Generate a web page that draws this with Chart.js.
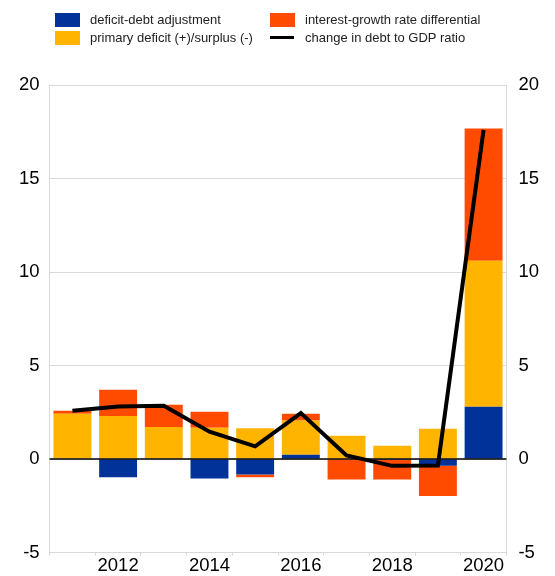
<!DOCTYPE html>
<html>
<head>
<meta charset="utf-8">
<script src="https://cdn.jsdelivr.net/npm/chart.js@4"></script>
<style>
  body { margin: 0; background: #fff; }
  #wrap { position: relative; width: 555px; height: 576px; font-family: "Liberation Sans", Arial, sans-serif; }
  #legend { position: absolute; left: 0; top: 0; width: 555px; height: 50px; font-size: 13px; color: #222; }
  .item { position: absolute; height: 16px; line-height: 16px; white-space: nowrap; }
  .sw { position: absolute; left: 0; top: 1px; width: 25px; height: 14px; }
  .ln { position: absolute; left: 0; top: 6px; width: 24px; height: 3px; background: #000; }
  .tx { position: absolute; left: 35px; top: 0; }
  #c { position: absolute; left: 0; top: 0; }
</style>
</head>
<body>
<div id="wrap">
  <canvas id="c" width="555" height="576"></canvas>
  <div id="legend"></div>
</div>
<script>
"use strict"

const years = ['2011', '2012', '2013', '2014', '2015', '2016', '2017', '2018', '2019', '2020'];
const deficitDebt = [0, -0.97, 0, -1.04, -0.82, 0.23, 0, -0.05, -0.36, 2.8];
const primaryDeficit = [2.43, 2.31, 1.72, 1.68, 1.65, 1.83, 1.25, 0.71, 1.63, 7.8];
const interestGrowth = [0.15, 1.4, 1.18, 0.85, -0.15, 0.37, -1.09, -1.04, -1.61, 7.08];
const debtChange = [2.58, 2.81, 2.85, 1.47, 0.68, 2.46, 0.2, -0.36, -0.34, 17.6];

const seriesNames = [
    'deficit-debt adjustment',
    'primary deficit (+)/surplus (-)',
    'interest-growth rate differential',
    'change in debt to GDP ratio'
];
const seriesColors = ['#003299', '#ffb400', '#ff4b00', '#000000'];

// legend, two columns
const legendSpots = [[55, 12], [55, 30], [270, 12], [270, 30]];
const legend = document.getElementById('legend');
seriesNames.forEach(function (name, i) {
    const item = document.createElement('div');
    item.className = 'item';
    item.style.left = legendSpots[i][0] + 'px';
    item.style.top = legendSpots[i][1] + 'px';
    const mark = document.createElement('div');
    if (i === 3) {
        mark.className = 'ln';
    } else {
        mark.className = 'sw';
        mark.style.background = seriesColors[i];
    }
    const txt = document.createElement('div');
    txt.className = 'tx';
    txt.textContent = name;
    item.appendChild(mark);
    item.appendChild(txt);
    legend.appendChild(item);
});

const zeroLine = {
    id: 'zeroLine',
    afterDatasetsDraw(chart) {
        const ctx = chart.ctx;
        const y = chart.scales.y.getPixelForValue(0);
        ctx.save();
        ctx.strokeStyle = '#000';
        ctx.lineWidth = 1.5;
        ctx.beginPath();
        ctx.moveTo(chart.chartArea.left, y);
        ctx.lineTo(chart.chartArea.right, y);
        ctx.stroke();
        ctx.restore();
    }
};

const gridGrey = '#d9d9d9';
const tickFont = { family: '"Liberation Sans", Arial, sans-serif', size: 18.5, lineHeight: 1.1 };

function barSet(i, data) {
    return {
        type: 'bar',
        label: seriesNames[i],
        data: data,
        backgroundColor: seriesColors[i],
        borderWidth: 0,
        categoryPercentage: 0.83,
        barPercentage: 1,
        stack: 'bars',
        order: 2
    };
}

let config = {
    data: {
        labels: years,
        datasets: [
            {
                type: 'line',
                label: seriesNames[3],
                data: debtChange,
                borderColor: '#000',
                borderWidth: 4,
                pointRadius: 0,
                tension: 0,
                stack: 'line',
                order: 1
            },
            barSet(0, deficitDebt),
            barSet(1, primaryDeficit),
            barSet(2, interestGrowth)
        ]
    },
    options: {
        responsive: false,
        animation: false,
        layout: { padding: { top: 85, left: 9, right: 4, bottom: 0 } },
        plugins: {
            legend: { display: false },
            tooltip: { enabled: false }
        },
        scales: {
            x: {
                stacked: true,
                offset: true,
                grid: { offset: true, drawOnChartArea: false, color: gridGrey, tickLength: 3 },
                border: { color: gridGrey },
                ticks: {
                    color: '#000',
                    font: tickFont,
                    autoSkip: false,
                    maxRotation: 0,
                    padding: 0,
                    callback: function (v, i) {
                        return i % 2 === 1 ? years[i] : '';
                    }
                }
            },
            y: {
                stacked: true,
                min: -5,
                max: 20,
                grid: { color: gridGrey, drawTicks: false },
                border: { color: gridGrey },
                ticks: { stepSize: 5, color: '#000', font: tickFont, padding: 10 }
            },
            y2: {
                position: 'right',
                min: -5,
                max: 20,
                grid: { drawOnChartArea: false, drawTicks: false },
                border: { color: gridGrey },
                ticks: { stepSize: 5, color: '#000', font: tickFont, padding: 12 }
            }
        }
    },
    plugins: [zeroLine]
};

const canvas = document.getElementById('c').getContext('2d');
const chart1 = new Chart(canvas, config);
</script>
</body>
</html>
